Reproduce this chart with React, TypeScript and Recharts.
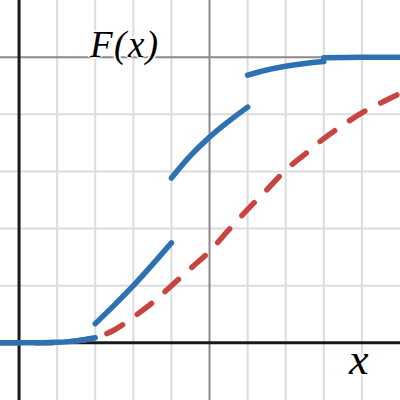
import { LineChart, Line, XAxis, YAxis, ReferenceLine } from "recharts";

// Canvas
const SIZE = 400;
const X_DOMAIN: [number, number] = [-0.5, 10];
const Y_DOMAIN: [number, number] = [-0.2, 1.2];

// Grid values
const minorX = [1, 2, 3, 4, 6, 7, 8, 9];
const minorY = [0.2, 0.4, 0.6, 0.8];
const majorX = [5];
const majorY = [1];

// Step-like CDF (blue), one array per piece
const blueX0 = [-0.5, 0, 0.5, 1, 1.5, 2];
const blueF0 = [0, 0, 0.0005, 0.002, 0.007, 0.018];
const blueX1 = [2, 2.5, 3, 3.5, 4];
const blueF1 = [0.067, 0.132, 0.2, 0.274, 0.35];
const blueX2 = [4, 4.5, 5, 5.5, 6];
const blueF2 = [0.577, 0.655, 0.72, 0.775, 0.825];
const blueX3 = [6, 6.5, 7, 7.5, 8];
const blueF3 = [0.937, 0.955, 0.968, 0.978, 0.985];
const blueX4 = [8, 9, 10];
const blueF4 = [0.998, 1, 1];

// Smooth CDF (red, dashed)
const redX = [-0.5, 0, 0.5, 1, 1.5, 2, 2.5, 3, 3.5, 4, 4.5, 5, 5.5, 6, 6.5, 7, 7.5, 8, 8.5, 9, 9.5, 10];
const redF = [0, 0, 0.0005, 0.002, 0.007, 0.018, 0.045, 0.09, 0.14, 0.2, 0.26, 0.32, 0.395, 0.467, 0.535, 0.605, 0.66, 0.715, 0.762, 0.805, 0.84, 0.873];

const BLUE = "#2d70b3";
const RED = "#c74440";
const LINE_WIDTH = 5.5;

const toPoints = (xs: number[], fs: number[]) => xs.map((x, i) => ({ x, F: fs[i] }));

const blueSegments = [
  toPoints(blueX0, blueF0),
  toPoints(blueX1, blueF1),
  toPoints(blueX2, blueF2),
  toPoints(blueX3, blueF3),
  toPoints(blueX4, blueF4),
];
const redData = toPoints(redX, redF);

const labelStyle = {
  position: "absolute" as const,
  fontFamily: '"Liberation Serif", "DejaVu Serif", serif',
  fontStyle: "italic",
  color: "#000",
  lineHeight: 1,
  whiteSpace: "nowrap" as const,
  textShadow:
    "0 0 2px #fff, 0 0 2px #fff, 2px 0 1px #fff, -2px 0 1px #fff, 0 2px 1px #fff, 0 -2px 1px #fff",
};

export default function App() {
  return (
    <div style={{ position: "fixed", left: 0, top: 0, width: SIZE, height: SIZE, background: "#fff" }}>
      <LineChart width={SIZE} height={SIZE} margin={{ top: 0, right: 0, bottom: 0, left: 0 }}>
        <XAxis type="number" dataKey="x" domain={X_DOMAIN} allowDataOverflow hide />
        <YAxis type="number" dataKey="F" domain={Y_DOMAIN} allowDataOverflow hide />
        {minorX.map((v) => (
          <ReferenceLine key={`mx-${v}`} x={v} stroke="#dcdcdc" strokeWidth={2} />
        ))}
        {minorY.map((v) => (
          <ReferenceLine key={`my-${v}`} y={v} stroke="#dcdcdc" strokeWidth={2} />
        ))}
        {majorX.map((v) => (
          <ReferenceLine key={`Mx-${v}`} x={v} stroke="#8a8a8a" strokeWidth={2} />
        ))}
        {majorY.map((v) => (
          <ReferenceLine key={`My-${v}`} y={v} stroke="#8a8a8a" strokeWidth={2} />
        ))}
        <ReferenceLine x={0} stroke="#1a1a1a" strokeWidth={3} />
        <ReferenceLine y={0} stroke="#1a1a1a" strokeWidth={3} />
        <Line
          data={redData}
          dataKey="F"
          type="monotone"
          stroke={RED}
          strokeWidth={LINE_WIDTH}
          strokeLinecap="round"
          strokeDasharray="18 18"
          dot={false}
          activeDot={false}
          isAnimationActive={false}
        />
        {blueSegments.map((seg, i) => (
          <Line
            key={`blue-${i}`}
            data={seg}
            dataKey="F"
            type="monotone"
            stroke={BLUE}
            strokeWidth={LINE_WIDTH}
            strokeLinecap="round"
            dot={false}
            activeDot={false}
            isAnimationActive={false}
          />
        ))}
      </LineChart>
      <span style={{ ...labelStyle, left: 90, top: 26, fontSize: 37, letterSpacing: 1.5 }}>F(x)</span>
      <span style={{ ...labelStyle, left: 349, top: 338, fontSize: 44 }}>x</span>
    </div>
  );
}
